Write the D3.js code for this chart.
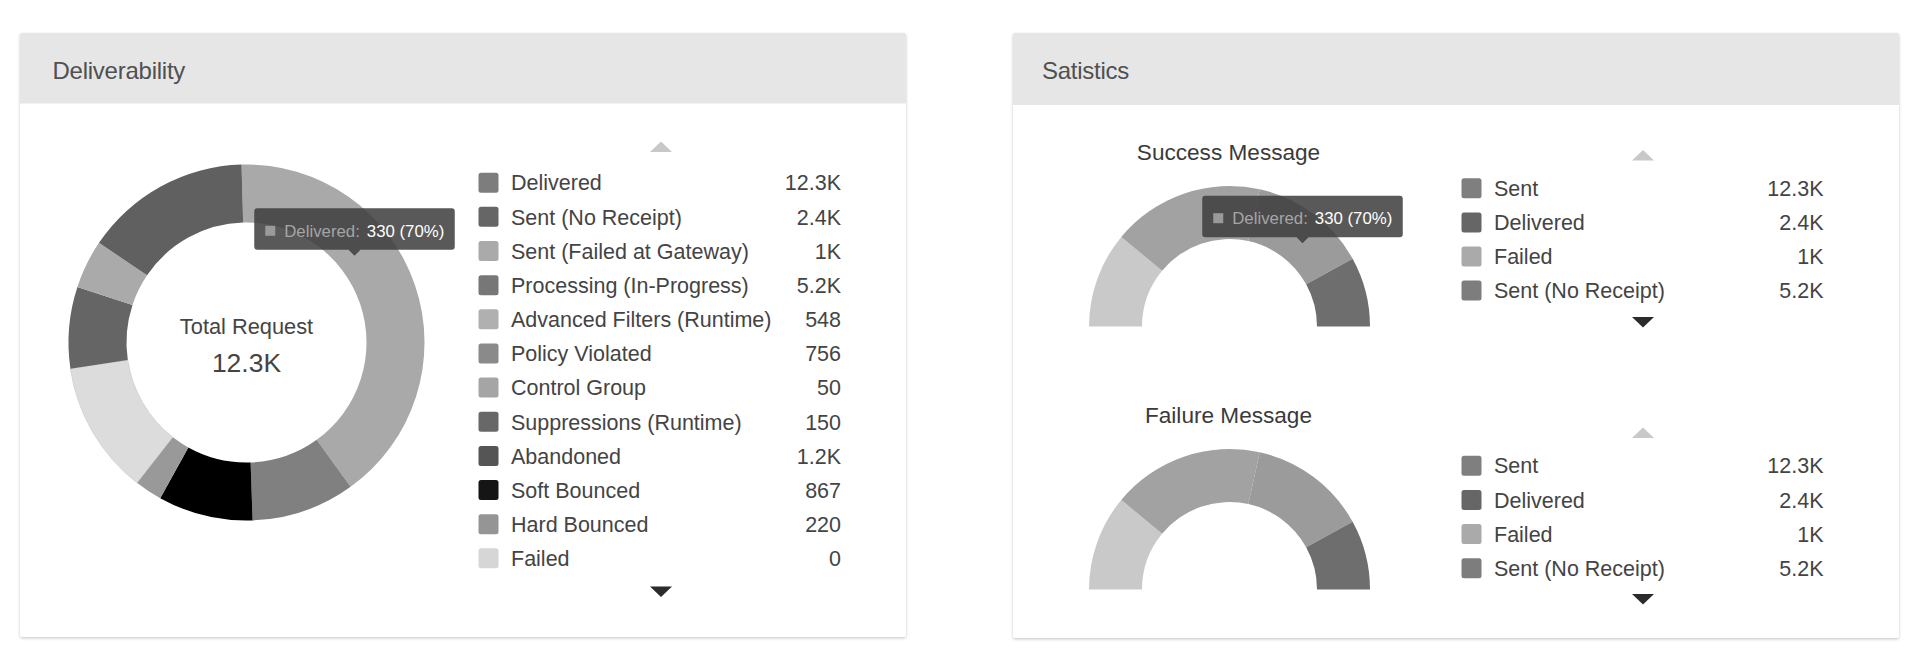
<!DOCTYPE html>
<html><head><meta charset="utf-8">
<script src="https://cdn.jsdelivr.net/npm/d3@7"></script>
<style>
html,body{margin:0;padding:0;background:#fff;overflow:hidden}
svg{display:block;font-family:"Liberation Sans",Arial,Helvetica,sans-serif}
</style>
</head><body>
<svg id="c" width="1920" height="671"></svg>
<script>
// ---------------- data ----------------
const cardTitles = ["Deliverability", "Satistics"];

const deliverLabels = ["Delivered", "Sent (No Receipt)", "Sent (Failed at Gateway)", "Processing (In-Progress)",
  "Advanced Filters (Runtime)", "Policy Violated", "Control Group", "Suppressions (Runtime)",
  "Abandoned", "Soft Bounced", "Hard Bounced", "Failed"];
const deliverValues = [12300, 2400, 1000, 5200, 548, 756, 50, 150, 1200, 867, 220, 0];
const deliverColors = ["#7d7d7d", "#666666", "#aaaaaa", "#777777", "#b0b0b0", "#8a8a8a",
  "#a5a5a5", "#686868", "#555555", "#151515", "#959595", "#d6d6d6"];

// donut slices (share of the ring, %), clockwise from the top
const donutShares = [40.5, 9.4, 8.6, 2.5, 12.1, 7.4, 4.4, 15.1];
const donutColors = ["#a9a9a9", "#808080", "#000000", "#999999", "#dcdcdc", "#656565", "#aaaaaa", "#606060"];

const totalLabel = "Total Request";
const totalValue = 12300;

const tooltipName = "Delivered:";
const tooltipText = "330 (70%)";

const gaugeTitles = ["Success Message", "Failure Message"];
const statLabels = ["Sent", "Delivered", "Failed", "Sent (No Receipt)"];
const statValues = [12300, 2400, 1000, 5200];
const statColors = ["#7f7f7f", "#666666", "#aaaaaa", "#7d7d7d"];
const successShares = [22.0, 34.9, 27.1, 16.0];
const failureShares = [22.0, 34.9, 27.1, 16.0];
const gaugeColors = ["#c9c9c9", "#a2a2a2", "#9b9b9b", "#6e6e6e"];

// ---------------- helpers ----------------
const fmtK = v => v >= 1000 ? d3.format("~f")(Math.round(v / 100) / 10) + "K" : String(v);
const svg = d3.select("#c");
const defs = svg.append("defs");
const f = defs.append("filter").attr("id", "sh").attr("x", "-5%").attr("y", "-5%").attr("width", "110%").attr("height", "110%");
f.append("feDropShadow").attr("dx", 0).attr("dy", 1.2).attr("stdDeviation", 1.8)
  .attr("flood-color", "#000").attr("flood-opacity", 0.22);

function card(x, y, w, h, hh, title, tx) {
  const g = svg.append("g");
  g.append("rect").attr("x", x).attr("y", y).attr("width", w).attr("height", h)
    .attr("rx", 2).attr("fill", "#fff").attr("filter", "url(#sh)");
  g.append("path").attr("d", `M${x},${y + hh}V${y + 2}Q${x},${y} ${x + 2},${y}H${x + w - 2}Q${x + w},${y} ${x + w},${y + 2}V${y + hh}Z`)
    .attr("fill", "#e6e6e6");
  g.append("text").attr("x", x + tx).attr("y", y + 46).attr("font-size", 24)
    .attr("letter-spacing", -0.25).attr("fill", "#505050").text(title);
}

function tri(g, cx, y, up, color) {
  const w = 11, h = 10.5;
  const d = up ? `M${cx - w},${y + h}L${cx + w},${y + h}L${cx},${y}Z`
               : `M${cx - w},${y}L${cx + w},${y}L${cx},${y + h}Z`;
  g.append("path").attr("d", d).attr("fill", color);
}

function legend(labels, values, colors, o) {
  const g = svg.append("g");
  const y = d3.scalePoint().domain(labels).range([o.y0, o.y0 + o.step * (labels.length - 1)]);
  tri(g, o.triX, o.upY, true, "#c8c8c8");
  tri(g, o.triX, o.downY, false, "#2b2b2b");
  const rows = g.selectAll("g.row").data(labels).join("g").attr("class", "row")
    .attr("transform", d => `translate(0,${y(d)})`);
  rows.append("rect").attr("x", o.sx).attr("y", -10).attr("width", 20).attr("height", 20)
    .attr("rx", 2.5).attr("fill", (d, i) => colors[i]);
  rows.append("text").attr("x", o.tx).attr("y", 0).attr("dy", "0.36em")
    .attr("font-size", 21.5).attr("fill", "#444").text(d => d);
  rows.append("text").attr("x", o.vx).attr("y", 0).attr("dy", "0.36em")
    .attr("text-anchor", "end").attr("font-size", 21.5).attr("fill", "#444")
    .text((d, i) => fmtK(values[i]));
}

function tooltip(cx, top) {
  const g = svg.append("g");
  const w = 200.5, h = 41.5, x = cx - w / 2;
  g.append("path")
    .attr("d", `M${x + 3},${top}H${x + w - 3}Q${x + w},${top} ${x + w},${top + 3}V${top + h - 3}Q${x + w},${top + h} ${x + w - 3},${top + h}` +
      `H${cx + 6}L${cx},${top + h + 6}L${cx - 6},${top + h}H${x + 3}Q${x},${top + h} ${x},${top + h - 3}V${top + 3}Q${x},${top} ${x + 3},${top}Z`)
    .attr("fill", "rgb(62,62,62)").attr("fill-opacity", 0.86);
  g.append("rect").attr("x", x + 11).attr("y", top + 17.5).attr("width", 10).attr("height", 10).attr("fill", "#9a9a9a");
  const t = g.append("text").attr("x", x + 30).attr("y", top + 28.4).attr("font-size", 16.8);
  t.append("tspan").attr("fill", "#a5a5a5").text(tooltipName);
  t.append("tspan").attr("fill", "#fff").attr("dx", 7).text(tooltipText);
}

// ---------------- cards ----------------
card(20, 33, 886, 604, 70.5, cardTitles[0], 32.5);
card(1013, 33, 886, 605, 72, cardTitles[1], 29);

// ---------------- donut ----------------
const dcx = 246.5, dcy = 342.5;
const start = -1.6 * Math.PI / 180;
const pie = d3.pie().sort(null).startAngle(start).endAngle(start + 2 * Math.PI);
const arc = d3.arc().innerRadius(120).outerRadius(178);
const dg = svg.append("g").attr("transform", `translate(${dcx},${dcy})`);
dg.selectAll("path").data(pie(donutShares)).join("path")
  .attr("d", arc).attr("fill", (d, i) => donutColors[i])
  .attr("stroke", (d, i) => donutColors[i] === "#dcdcdc" ? "#cfcfcf" : "none").attr("stroke-width", 0.8);
dg.append("text").attr("y", -16.5).attr("dy", "0.36em").attr("text-anchor", "middle")
  .attr("font-size", 21.8).attr("fill", "#444").text(totalLabel);
dg.append("text").attr("y", 20).attr("dy", "0.36em").attr("text-anchor", "middle")
  .attr("font-size", 26.5).attr("fill", "#444").text(fmtK(totalValue));

legend(deliverLabels, deliverValues, deliverColors,
  { y0: 182.7, step: 34.15, sx: 478.5, tx: 511, vx: 841, triX: 661, upY: 141.5, downY: 586.5 });

tooltip(dcx + 108, 208.3);

// ---------------- gauges ----------------
const gpie = d3.pie().sort(null).startAngle(-Math.PI / 2).endAngle(Math.PI / 2);
const garc = d3.arc().innerRadius(87.5).outerRadius(140.5);
const gcx = 1229.5;
[[326.5, successShares, 151.7], [589.5, failureShares, 415]].forEach(([by, shares, ty], k) => {
  const g = svg.append("g").attr("transform", `translate(${gcx},${by})`);
  g.selectAll("path").data(gpie(shares)).join("path").attr("d", garc).attr("fill", (d, i) => gaugeColors[i]);
  svg.append("text").attr("x", gcx - 1).attr("y", ty).attr("dy", "0.36em").attr("text-anchor", "middle")
    .attr("font-size", 22.6).attr("fill", "#3a3a3a").text(gaugeTitles[k]);
});

legend(statLabels, statValues, statColors,
  { y0: 188.3, step: 34.1, sx: 1461.5, tx: 1494, vx: 1823.5, triX: 1643, upY: 150, downY: 317 });
legend(statLabels, statValues, statColors,
  { y0: 465.7, step: 34.2, sx: 1461.5, tx: 1494, vx: 1823.5, triX: 1643, upY: 427.5, downY: 594 });

tooltip(1302.5, 195.7);
</script>
</body></html>
